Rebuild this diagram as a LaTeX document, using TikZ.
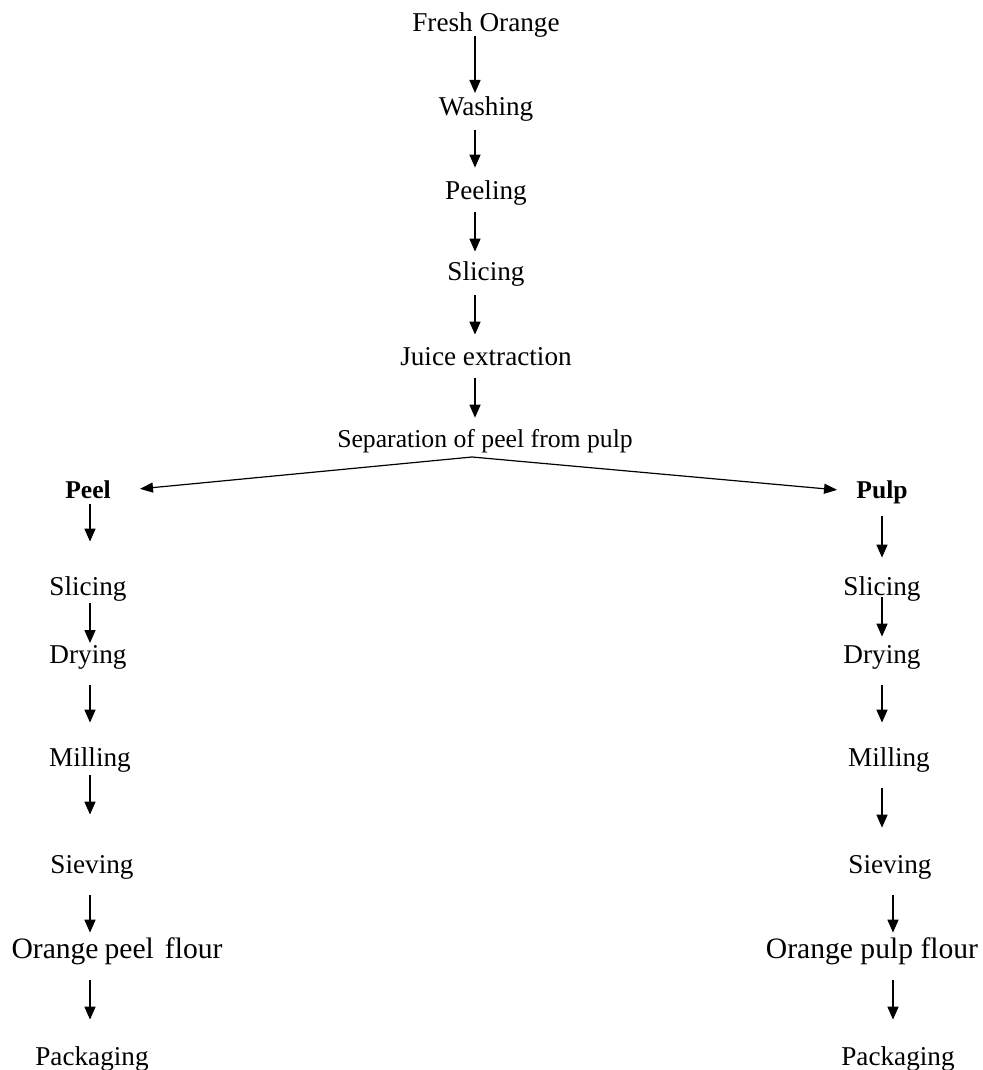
\documentclass[tikz,border=0pt]{standalone}
\usepackage{fontspec}
\setmainfont{Liberation Serif}
\usetikzlibrary{arrows.meta}

\begin{document}
\begin{tikzpicture}[x=0.5pt,y=-0.5pt,
  stage/.style={anchor=base,inner sep=0pt,font=\fontsize{13.6}{16}\selectfont,text height=9.8pt,text depth=3pt},
  small/.style={anchor=base,inner sep=0pt,font=\fontsize{12.85}{15}\selectfont,text height=9.25pt,text depth=2.8pt},
  head/.style={anchor=base,inner sep=0pt,font=\fontsize{12.8}{15}\selectfont\bfseries,text height=9.2pt,text depth=2.8pt},
  flour/.style={anchor=base,inner sep=0pt,font=\fontsize{14.8}{17}\selectfont,text height=10.6pt,text depth=3.3pt},
  arr/.style={-{Triangle[length=6.5pt,width=5.5pt]},line width=0.75pt},
  branch/.style={-{Triangle[length=6.5pt,width=5pt]},line width=0.6pt}]
\useasboundingbox (0,0) rectangle (982,1070);

% columns of the arrows
\coordinate (mid) at (475,0);
\coordinate (lcol) at (90,0);
\coordinate (rcol) at (882,0);
\coordinate (rcol2) at (893,0);
\coordinate (split) at (472,457);

% main line
\node[stage] (fresh) at (486,32) {Fresh Orange};
\node[stage] (wash) at (486,116) {Washing};
\node[stage] (peeling) at (486,199) {Peeling};
\node[stage] (slice) at (486,280) {Slicing};
\node[stage] (juice) at (486,365) {Juice extraction};
\node[small] (sep) at (485,447) {Separation of peel from pulp};

% peel side
\node[head] (peel) at (88,498) {Peel};
\node[stage] (pslice) at (88,595) {Slicing};
\node[stage] (pdry) at (88,663) {Drying};
\node[stage] (pmill) at (90,766) {Milling};
\node[stage] (psieve) at (92,873) {Sieving};
\node[flour] (pflour) at (117,958) {Orange\hspace{3pt}peel\hspace{5.5pt}flour};
\node[stage] (ppack) at (92,1065) {Packaging};

% pulp side
\node[head] (pulp) at (882,498) {Pulp};
\node[stage] (uslice) at (882,595) {Slicing};
\node[stage] (udry) at (882,663) {Drying};
\node[stage] (umill) at (889,766) {Milling};
\node[stage] (usieve) at (890,873) {Sieving};
\node[flour] (uflour) at (872,958) {Orange pulp flour};
\node[stage] (upack) at (898,1065) {Packaging};

\draw[arr,shorten <=-1pt,shorten >=1.5pt] (fresh.south -| mid) -- (wash.north -| mid);
\draw[arr,shorten <=4pt,shorten >=5.7pt] (wash.south -| mid) -- (peeling.north -| mid);
\draw[arr,shorten <=3.5pt,shorten >=4.2pt] (peeling.south -| mid) -- (slice.north -| mid);
\draw[arr,shorten <=4.5pt,shorten >=5.2pt] (slice.south -| mid) -- (juice.north -| mid);
\draw[arr,shorten <=3.5pt,shorten >=5.2pt] (juice.south -| mid) -- (sep.north -| mid);

\draw[branch,shorten >=14.5pt] (split) -- (peel.east);
\draw[branch,shorten >=9.5pt] (split) -- (pulp.west);

\draw[arr,shorten >=16.7pt] (peel.south -| lcol) -- (pslice.north -| lcol);
\draw[arr,shorten <=1pt] (pslice.south -| lcol) -- (pdry.north -| lcol);
\draw[arr,shorten <=8pt,shorten >=11.7pt] (pdry.south -| lcol) -- (pmill.north -| lcol);
\draw[arr,shorten <=1.5pt,shorten >=19.2pt] (pmill.south -| lcol) -- (psieve.north -| lcol);
\draw[arr,shorten <=8pt,shorten >=1.9pt] (psieve.south -| lcol) -- (pflour.north -| lcol);
\draw[arr,shorten <=7.7pt,shorten >=12.7pt] (pflour.south -| lcol) -- (ppack.north -| lcol);

\draw[arr,shorten <=6.2pt,shorten >=8.7pt] (pulp.south -| rcol) -- (uslice.north -| rcol);
\draw[arr,shorten <=-2pt,shorten >=3.2pt] (uslice.south -| rcol) -- (udry.north -| rcol);
\draw[arr,shorten <=8pt,shorten >=11.7pt] (udry.south -| rcol) -- (umill.north -| rcol);
\draw[arr,shorten <=8pt,shorten >=12.7pt] (umill.south -| rcol) -- (usieve.north -| rcol);
\draw[arr,shorten <=8pt,shorten >=1.9pt] (usieve.south -| rcol2) -- (uflour.north -| rcol2);
\draw[arr,shorten <=7.7pt,shorten >=12.7pt] (uflour.south -| rcol2) -- (upack.north -| rcol2);
\end{tikzpicture}
\end{document}
